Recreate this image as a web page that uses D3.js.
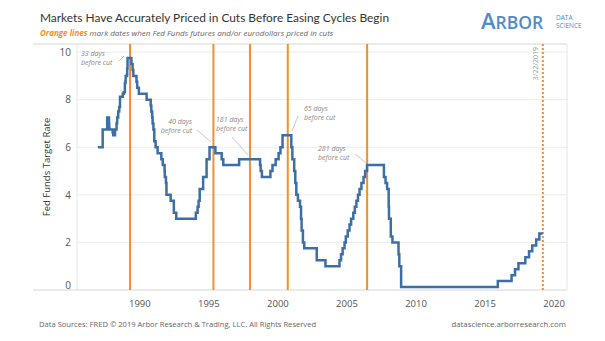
<!DOCTYPE html>
<html>
<head>
<meta charset="utf-8">
<script src="https://cdn.jsdelivr.net/npm/d3@7"></script>
<style>
  body { margin: 0; background: #fff; }
  svg { display: block; font-family: "Open Sans", sans-serif; }
</style>
</head>
<body>
<div id="chart"></div>
<script>
// Fed funds target rate, step changes (post-2008 uses midpoint of target range)
var rateDates = ["1987-01-01","1987-05-08","1987-09-04","1987-10-22","1987-10-28","1987-11-04","1988-01-28","1988-02-11",
  "1988-03-30","1988-05-09","1988-05-25","1988-06-22","1988-07-19","1988-08-08","1988-10-20","1988-11-17","1988-12-15",
  "1988-12-29","1989-01-05","1989-02-09","1989-02-14","1989-02-23","1989-02-24","1989-06-06","1989-07-07","1989-07-27",
  "1989-10-18","1989-11-06","1989-12-20","1990-07-13","1990-10-29","1990-11-14","1990-12-07","1990-12-19","1991-01-09",
  "1991-02-01","1991-03-08","1991-04-30","1991-08-06","1991-09-13","1991-10-31","1991-11-06","1991-12-06","1991-12-20",
  "1992-04-09","1992-07-02","1992-09-04","1994-02-04","1994-03-22","1994-04-18","1994-05-17","1994-08-16","1994-11-15",
  "1995-02-01","1995-07-06","1995-12-19","1996-01-31","1997-03-25","1998-09-29","1998-10-15","1998-11-17","1999-06-30",
  "1999-08-24","1999-11-16","2000-02-02","2000-03-21","2000-05-16","2001-01-03","2001-01-31","2001-03-20","2001-04-18",
  "2001-05-15","2001-06-27","2001-08-21","2001-09-17","2001-10-02","2001-11-06","2001-12-11","2002-11-06","2003-06-25",
  "2004-06-30","2004-08-10","2004-09-21","2004-11-10","2004-12-14","2005-02-02","2005-03-22","2005-05-03","2005-06-30",
  "2005-08-09","2005-09-20","2005-11-01","2005-12-13","2006-01-31","2006-03-28","2006-05-10","2006-06-29","2007-09-18",
  "2007-10-31","2007-12-11","2008-01-22","2008-01-30","2008-03-18","2008-04-30","2008-10-08","2008-10-29","2008-12-16",
  "2015-12-17","2016-12-15","2017-03-16","2017-06-15","2017-12-14","2018-03-22","2018-06-14","2018-09-27","2018-12-20",
  "2019-03-22"];
var rateValues = [6.0,6.75,7.25,7.0,6.8125,6.75,6.625,6.5,
  6.75,7.0,7.25,7.5,7.6875,8.125,8.25,8.3125,8.6875,
  8.75,9.0,9.0625,9.3125,9.5625,9.75,9.5,9.25,9.0,
  8.75,8.5,8.25,8.0,7.75,7.5,7.25,7.0,6.75,
  6.25,6.0,5.75,5.5,5.25,5.0,4.75,4.5,4.0,
  3.75,3.25,3.0,3.25,3.5,3.75,4.25,4.75,5.5,
  6.0,5.75,5.5,5.25,5.5,5.25,5.0,4.75,5.0,
  5.25,5.5,5.75,6.0,6.5,6.0,5.5,5.0,4.5,
  4.0,3.75,3.5,3.0,2.5,2.0,1.75,1.25,1.0,
  1.25,1.5,1.75,2.0,2.25,2.5,2.75,3.0,3.25,
  3.5,3.75,4.0,4.25,4.5,4.75,5.0,5.25,4.75,
  4.5,4.25,3.5,3.0,2.25,2.0,1.5,1.0,0.125,
  0.375,0.625,0.875,1.125,1.375,1.625,1.875,2.125,2.375,
  2.375];

// dates when futures priced in the cut
var cutDates = ["1989-05-01","1995-05-15","1998-01-05","2000-10-01","2006-07-01"];
var cutLabels = [["33 days","before cut"],["40 days","before cut"],["181 days","before cut"],["65 days","before cut"],["281 days","before cut"]];
var todayDate = "2019-03-22";
var todayLabel = "3/22/2019";
var yTicks = [0, 2, 4, 6, 8, 10];
var xTickYears = [1990, 1995, 2000, 2005, 2010, 2015, 2020];

var W = 605, H = 341;
var parse = d3.timeParse("%Y-%m-%d");

var svg = d3.select("#chart").append("svg")
  .attr("width", W).attr("height", H);

var plotL = 77, plotR = 567, plotT = 44, plotB = 290;

var x = d3.scaleTime()
  .domain([parse("1985-06-28"), parse("2020-12-20")])
  .range([plotL, plotR]);
var y = d3.scaleLinear()
  .domain([0, 10.34])
  .range([plotB, plotT]);

// title block
svg.append("text")
  .attr("x", 40).attr("y", 22)
  .attr("font-size", 11.9).attr("fill", "#333").attr("font-family", "Lato, sans-serif")
  .text("Markets Have Accurately Priced in Cuts Before Easing Cycles Begin");

var sub = svg.append("text")
  .attr("x", 40).attr("y", 35.5)
  .attr("font-size", 8).attr("font-style", "italic").attr("fill", "#666");
sub.append("tspan").attr("font-weight", "bold").attr("fill", "#f28e2b").text("Orange lines");
sub.append("tspan").text(" mark dates when Fed Funds futures and/or eurodollars priced in cuts");

// logo
var logo = svg.append("text")
  .attr("x", 481).attr("y", 29)
  .attr("fill", "#4f8cc9").attr("font-weight", "600");
logo.append("tspan").attr("font-size", 22).text("A");
logo.append("tspan").attr("font-size", 17.5).text("RBOR");
svg.append("text").attr("x", 556).attr("y", 20)
  .attr("font-size", 6.5).attr("fill", "#4f8cc9").text("DATA");
svg.append("text").attr("x", 556).attr("y", 28)
  .attr("font-size", 6.5).attr("fill", "#4f8cc9").text("SCIENCE");

// gridlines
svg.append("g")
  .selectAll("line")
  .data(yTicks.filter(function(d) { return d > 0; }))
  .join("line")
    .attr("x1", plotL).attr("x2", plotR)
    .attr("y1", function(d) { return y(d); })
    .attr("y2", function(d) { return y(d); })
    .attr("stroke", "#ececec").attr("stroke-width", 1);

// frame
svg.append("line").attr("x1", 33).attr("x2", plotR).attr("y1", plotT).attr("y2", plotT)
  .attr("stroke", "#d6d6d6");
svg.append("line").attr("x1", 33).attr("x2", plotR).attr("y1", plotB).attr("y2", plotB)
  .attr("stroke", "#d6d6d6");
svg.append("line").attr("x1", plotL).attr("x2", plotL).attr("y1", plotT).attr("y2", plotB)
  .attr("stroke", "#e6e6e6");
svg.append("line").attr("x1", plotR).attr("x2", plotR).attr("y1", plotT).attr("y2", plotB)
  .attr("stroke", "#e6e6e6");

// y axis
var yAxis = svg.append("g")
  .attr("transform", "translate(" + (plotL - 6) + ",0)")
  .call(d3.axisLeft(y).tickValues(yTicks).tickSize(0).tickPadding(0));
yAxis.select(".domain").remove();
yAxis.selectAll("text")
  .attr("font-size", 10).attr("fill", "#555").attr("font-family", "Open Sans, sans-serif")
  .attr("dy", function(d) { return d === 0 ? "-0.15em" : "0.32em"; });

svg.append("text")
  .attr("transform", "translate(50," + ((plotT + plotB) / 2) + ") rotate(-90)")
  .attr("text-anchor", "middle")
  .attr("font-size", 9.5).attr("fill", "#333")
  .text("Fed Funds Target Rate");

// x axis
var xAxis = svg.append("g")
  .attr("transform", "translate(0," + plotB + ")")
  .call(d3.axisBottom(x)
    .tickValues(xTickYears.map(function(yr) { return new Date(yr, 0, 1); }))
    .tickFormat(d3.timeFormat("%Y"))
    .tickSize(0).tickPadding(10));
xAxis.select(".domain").remove();
xAxis.selectAll("text")
  .attr("font-size", 9.5).attr("fill", "#555").attr("font-family", "Open Sans, sans-serif");

// orange cut markers
svg.append("g")
  .selectAll("line")
  .data(cutDates)
  .join("line")
    .attr("x1", function(d) { return x(parse(d)); })
    .attr("x2", function(d) { return x(parse(d)); })
    .attr("y1", plotT).attr("y2", plotB)
    .attr("stroke", "#f28e2b").attr("stroke-width", 2);

svg.append("line")
  .attr("x1", x(parse(todayDate))).attr("x2", x(parse(todayDate)))
  .attr("y1", plotT).attr("y2", plotB)
  .attr("stroke", "#f28e2b").attr("stroke-width", 2)
  .attr("stroke-dasharray", "2,2");

svg.append("text")
  .attr("transform", "translate(" + (x(parse(todayDate)) - 5) + "," + (plotT + 3) + ") rotate(-90)")
  .attr("text-anchor", "end")
  .attr("font-size", 7).attr("fill", "#999")
  .text(todayLabel);

// rate line
var series = rateDates.map(function(d, i) { return { date: parse(d), value: rateValues[i] }; });

svg.append("path")
  .datum(series)
  .attr("fill", "none")
  .attr("stroke", "#3d6ea5")
  .attr("stroke-width", 2.5)
  .attr("stroke-linejoin", "miter")
  .attr("d", d3.line()
    .curve(d3.curveStepAfter)
    .x(function(d) { return x(d.date); })
    .y(function(d) { return y(d.value); }));

// annotations: label position, anchor, leader line
var notes = [
  { tx: 81, ty: 56, anchor: "start", l: [119, 61, 124, 56] },
  { tx: 192, ty: 124, anchor: "end", l: [197, 130, 211, 142] },
  { tx: 216, ty: 122, anchor: "start", l: [232, 137, 248, 155] },
  { tx: 304, ty: 111, anchor: "start", l: [298, 116, 292, 131] },
  { tx: 318, ty: 151, anchor: "start", l: [355, 154, 366, 163] }
];
notes.forEach(function(n, i) {
  var t = svg.append("text")
    .attr("x", n.tx).attr("y", n.ty)
    .attr("text-anchor", n.anchor)
    .attr("font-size", 7).attr("font-style", "italic").attr("fill", "#888");
  cutLabels[i].forEach(function(s, j) {
    t.append("tspan").attr("x", n.tx).attr("dy", j === 0 ? 0 : 9).text(s);
  });
  svg.append("line")
    .attr("x1", n.l[0]).attr("y1", n.l[1]).attr("x2", n.l[2]).attr("y2", n.l[3])
    .attr("stroke", "#bbb").attr("stroke-width", 0.8);
});

// footer
svg.append("text")
  .attr("x", 39).attr("y", 327)
  .attr("font-size", 7.6).attr("fill", "#666")
  .text("Data Sources: FRED \u00a9 2019 Arbor Research & Trading, LLC. All Rights Reserved");
svg.append("text")
  .attr("x", 566).attr("y", 327)
  .attr("text-anchor", "end")
  .attr("font-size", 7.8).attr("fill", "#666")
  .text("datascience.arborresearch.com");
</script>
</body>
</html>
